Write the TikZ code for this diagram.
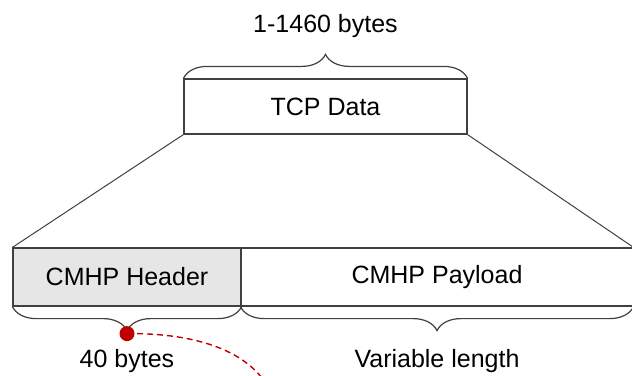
\documentclass[tikz,border=0pt]{standalone}
\usepackage{fontspec}
\setmainfont{Liberation Sans}
\usetikzlibrary{positioning, decorations.pathreplacing}
\definecolor{boxgray}{RGB}{230,230,230}
\definecolor{linegray}{RGB}{64,64,64}
\definecolor{dotred}{RGB}{192,0,0}
\tikzset{
every node/.style={font=\fontsize{25}{30}\selectfont}, % all labels in the same size
field/.style={draw=linegray, line width=1.2pt, inner sep=0pt}, % the boxes of the packet
brace/.style={decorate, draw=linegray, line width=1.2pt,
  decoration={brace, amplitude=24pt}}, % the curly brackets
}

\begin{document}
\begin{tikzpicture}[x=1pt, y=-1pt]
      \clip (0,0) rectangle (632,375);
      \node[field, minimum width=283pt, minimum height=55pt] (tcp) at (325.5,106.5) {TCP Data};
      \node[field, fill=boxgray, minimum width=228pt, minimum height=58pt] (header) at (127,277) {CMHP Header};
      \node[field, minimum width=392pt, minimum height=58pt] (payload) at (437,277) {CMHP Payload};

      \draw[linegray, line width=1pt] (tcp.south west) -- (header.north west)
      (tcp.south east) -- (payload.north east);

      \draw[brace] (tcp.north west) -- (tcp.north east)
      node[midway, above=37pt] (size) {1-1460 bytes};
      \draw[brace, decoration={mirror}] (header.south west) -- (header.south east)
      coordinate[midway, below=27pt] (tip)
      node[midway, below=39pt] (hbytes) {40 bytes};
      \draw[brace, decoration={mirror}] (payload.south west) -- (payload.south east)
      node[midway, below=39pt] (plen) {Variable length};

      \coordinate (away) at (262,378);
      \draw[dotred, dash pattern=on 6pt off 4pt, line width=1.4pt] (tip) .. controls (195,333) and (240,350) .. (away);
      \fill[dotred] (tip) circle (7.5pt);
    \end{tikzpicture}
\end{document}
